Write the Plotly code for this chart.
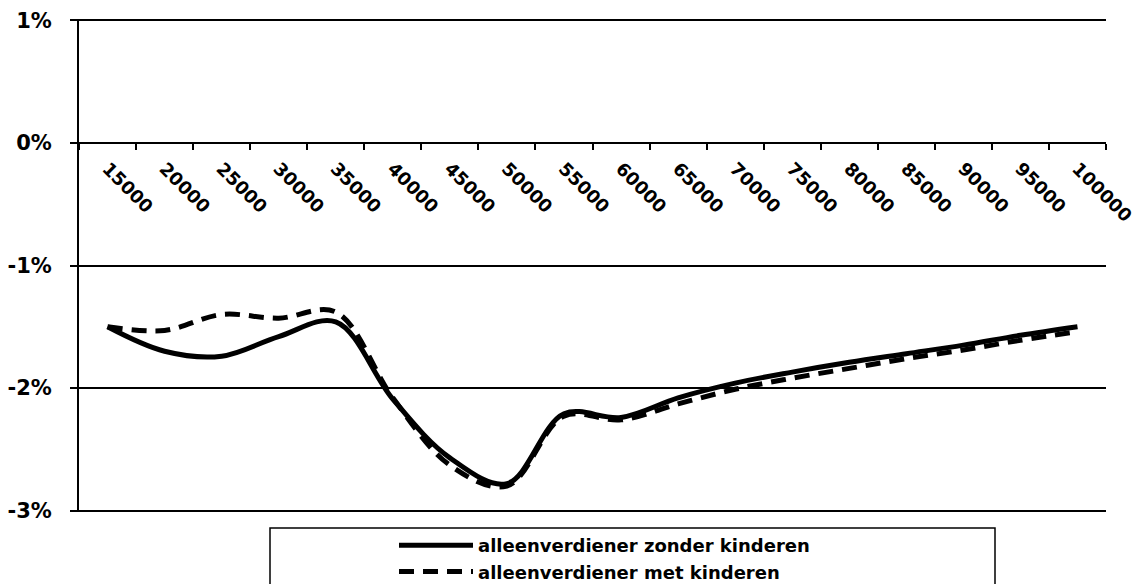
import plotly.graph_objects as go

incomes = ["15000", "20000", "25000", "30000", "35000", "40000", "45000", "50000", "55000",
           "60000", "65000", "70000", "75000", "80000", "85000", "90000", "95000", "100000"]
zonder_kinderen = [-1.50, -1.70, -1.74, -1.58, -1.46, -2.09, -2.57, -2.78, -2.21,
                   -2.24, -2.08, -1.96, -1.87, -1.79, -1.72, -1.65, -1.57, -1.50]
met_kinderen = [-1.50, -1.53, -1.40, -1.43, -1.38, -2.08, -2.63, -2.80, -2.23,
                -2.26, -2.13, -2.01, -1.92, -1.84, -1.76, -1.69, -1.61, -1.54]
y_ticks = [1, 0, -1, -2, -3]
y_labels = ["1%", "0%", "-1%", "-2%", "-3%"]

W, H = 1145, 584
ML, MR, MT, MB = 79, 39, 19, 72
pw, ph = W - ML - MR, H - MT - MB

def px_x(p):
    return (p - ML) / pw

def px_y(p):
    return (H - MB - p) / ph

font = "DejaVu Sans, Liberation Sans, Arial, sans-serif"

y_lo, y_hi = -3.012, 1.012

fig = go.Figure()
fig.add_trace(go.Scatter(x=incomes, y=zonder_kinderen, mode="lines",
                         name="alleenverdiener zonder kinderen",
                         line=dict(color="black", width=5, shape="spline")))
fig.add_trace(go.Scatter(x=incomes, y=met_kinderen, mode="lines",
                         name="alleenverdiener met kinderen",
                         line=dict(color="black", width=5, shape="spline", dash="15px,9px")))

fig.update_layout(
    width=W, height=H,
    margin=dict(l=ML, r=MR, t=MT, b=MB, autoexpand=False),
    paper_bgcolor="white", plot_bgcolor="white",
    font=dict(family=font, color="black"),
    xaxis=dict(type="category", anchor="free", position=(0 - y_lo) / (y_hi - y_lo),
               showline=True, linecolor="black", linewidth=2,
               showgrid=False, ticks="outside", tickson="boundaries",
               ticklen=6, tickwidth=2, tickcolor="black",
               tickangle=45, ticklabelstandoff=7,
               tickfont=dict(size=18, family=font, weight="bold"),
               range=[-0.5, 17.5]),
    yaxis=dict(range=[y_lo, y_hi], tickvals=y_ticks, ticktext=y_labels,
               showline=True, linecolor="black", linewidth=2,
               showgrid=True, gridcolor="black", gridwidth=1.5,
               zeroline=False, ticks="outside", ticklen=7, tickwidth=2,
               tickcolor="black", ticklabelstandoff=14,
               tickfont=dict(size=21, family=font, weight="bold")),
    showlegend=True,
    legend=dict(x=px_x(394), y=px_y(527), xanchor="left", yanchor="top",
                xref="paper", yref="paper", bgcolor="rgba(0,0,0,0)",
                borderwidth=0, itemwidth=74, tracegroupgap=0,
                font=dict(size=18, family=font, weight="bold")),
    shapes=[dict(type="rect", xref="paper", yref="paper",
                 x0=px_x(270), x1=px_x(995), y0=px_y(528), y1=px_y(600),
                 line=dict(color="black", width=1.5), fillcolor="rgba(0,0,0,0)")],
)

fig.write_html("out.html", config={"displayModeBar": False},
               post_script="document.body.style.margin='0';document.body.style.overflow='hidden';")
